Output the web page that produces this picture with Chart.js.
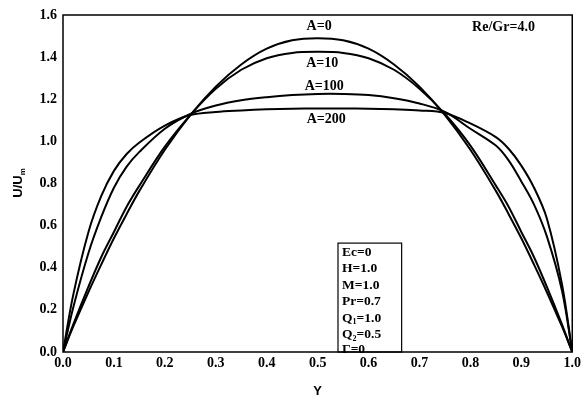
<!DOCTYPE html>
<html lang="en">
<head>
  <meta charset="UTF-8">
  <title>U/Um vs Y</title>
  <script src="https://cdn.jsdelivr.net/npm/chart.js"></script>
  <style>
    html, body { margin: 0; padding: 0; background: #fff; }
    #wrap { width: 584px; height: 403px; }
  </style>
</head>
<body>
  <div id="wrap"><canvas id="chart" width="584" height="403"></canvas></div>

  <script>
    // data
    const yPos  = [0, 0.02, 0.05, 0.075, 0.1, 0.125, 0.15, 0.2, 0.25, 0.3, 0.35, 0.4, 0.45, 0.5, 0.55, 0.6, 0.65, 0.7, 0.75, 0.8, 0.85, 0.875, 0.9, 0.925, 0.95, 0.98, 1.0];
    const uA0   = [0, 0.12, 0.285, 0.415, 0.54, 0.655, 0.765, 0.96, 1.125, 1.26, 1.365, 1.44, 1.48, 1.49, 1.48, 1.44, 1.365, 1.26, 1.125, 0.96, 0.765, 0.655, 0.54, 0.415, 0.285, 0.12, 0];
    const uA10  = [0, 0.13, 0.31, 0.45, 0.57, 0.69, 0.79, 0.975, 1.125, 1.25, 1.34, 1.395, 1.42, 1.425, 1.42, 1.395, 1.34, 1.25, 1.13, 0.98, 0.79, 0.69, 0.57, 0.45, 0.31, 0.13, 0];
    const uA100 = [0, 0.21, 0.47, 0.64, 0.78, 0.88, 0.95, 1.06, 1.13, 1.17, 1.195, 1.21, 1.22, 1.225, 1.225, 1.22, 1.205, 1.18, 1.14, 1.06, 0.98, 0.91, 0.81, 0.70, 0.55, 0.29, 0];
    const uA200 = [0, 0.27, 0.57, 0.74, 0.86, 0.94, 0.995, 1.075, 1.125, 1.14, 1.147, 1.152, 1.155, 1.156, 1.156, 1.155, 1.152, 1.147, 1.135, 1.085, 1.02, 0.965, 0.885, 0.78, 0.635, 0.32, 0];
    const seriesNames = ['A=0', 'A=10', 'A=100', 'A=200'];
    const paramLines = [['Ec', '', '=0'], ['H', '', '=1.0'], ['M', '', '=1.0'], ['Pr', '', '=0.7'], ['Q', '1', '=1.0'], ['Q', '2', '=0.5'], ['\u0393', '', '=0']];
    const ratioLabel = 'Re/Gr=4.0';

    const FONT = '"Liberation Serif", "DejaVu Serif", serif';

    function toXY(ys, us) {
      return ys.map((y, i) => ({ x: y, y: us[i] }));
    }

    // frame, curve labels and parameter box
    const extras = {
      id: 'extras',
      afterDraw(chart) {
        const ctx = chart.ctx;
        const a = chart.chartArea;
        const xs = chart.scales.x, ys = chart.scales.y;
        const px = v => xs.getPixelForValue(v);
        const py = v => ys.getPixelForValue(v);
        ctx.save();
        ctx.strokeStyle = '#000';
        ctx.lineWidth = 1.5;
        ctx.strokeRect(a.left, a.top, a.right - a.left, a.bottom - a.top);

        ctx.fillStyle = '#000';
        ctx.font = 'bold 14px ' + FONT;
        ctx.textAlign = 'center';
        ctx.textBaseline = 'middle';
        const labelPos = [[0.503, 1.547], [0.509, 1.372], [0.513, 1.262], [0.517, 1.104]];
        seriesNames.forEach((n, i) => ctx.fillText(n, px(labelPos[i][0]), py(labelPos[i][1])));
        ctx.fillText(ratioLabel, px(0.865), py(1.54));

        // parameter box
        ctx.lineWidth = 1.2;
        const bl = px(0.54), br = px(0.665), bt = py(0.517), bb = py(0);
        ctx.strokeRect(bl, bt, br - bl, bb - bt);
        ctx.textAlign = 'left';
        const rowU = [0.47, 0.394, 0.318, 0.242, 0.161, 0.081, 0.01];
        paramLines.forEach((p, i) => {
          let x = px(0.548);
          const y = py(rowU[i]);
          ctx.font = 'bold 13.5px ' + FONT;
          ctx.fillText(p[0], x, y);
          x += ctx.measureText(p[0]).width;
          if (p[1]) {
            ctx.font = 'bold 8px ' + FONT;
            ctx.fillText(p[1], x, y + 4);
            x += ctx.measureText(p[1]).width;
            ctx.font = 'bold 13.5px ' + FONT;
          }
          ctx.fillText(p[2], x, y);
        });

        // y axis title with subscript
        ctx.translate(18, (a.top + a.bottom) / 2);
        ctx.rotate(-Math.PI / 2);
        ctx.font = 'bold 13px "Liberation Sans", sans-serif';
        ctx.textAlign = 'left';
        const t = 'U/U';
        const w = ctx.measureText(t).width;
        ctx.fillText(t, -w / 2 - 3, 0);
        ctx.font = 'bold 8px "Liberation Sans", sans-serif';
        ctx.fillText('m', w / 2 - 3, 5);
        ctx.restore();
      }
    };

    new Chart(document.getElementById('chart'), {
      type: 'line',
      data: {
        datasets: [uA0, uA10, uA100, uA200].map((u, i) => ({
          label: seriesNames[i],
          data: toXY(yPos, u),
          borderColor: '#000',
          borderWidth: 2,
          pointRadius: 0,
          fill: false,
          tension: 0.35
        }))
      },
      options: {
        responsive: false,
        animation: false,
        layout: { padding: { top: 15, right: 10, left: 0, bottom: 0 } },
        plugins: { legend: { display: false }, tooltip: { enabled: false } },
        scales: {
          x: {
            type: 'linear',
            min: 0, max: 1,
            grid: { display: false, drawTicks: false },
            border: { display: false },
            ticks: {
              stepSize: 0.1, padding: 3, color: '#000',
              font: { family: FONT, size: 14, weight: 'bold' },
              callback: v => v.toFixed(1)
            },
            title: {
              display: true, text: 'Y', color: '#000', padding: { top: 4 },
              font: { family: '"Liberation Sans", sans-serif', size: 13, weight: 'bold' }
            },
            afterFit: s => { s.height = 51; }
          },
          y: {
            min: 0, max: 1.6,
            grid: { display: false, drawTicks: false },
            border: { display: false },
            ticks: {
              stepSize: 0.2, padding: 6, color: '#000',
              font: { family: FONT, size: 14, weight: 'bold' },
              callback: v => v.toFixed(1)
            },
            afterFit: s => { s.width = 63; }
          }
        }
      },
      plugins: [extras]
    });
  </script>
</body>
</html>
